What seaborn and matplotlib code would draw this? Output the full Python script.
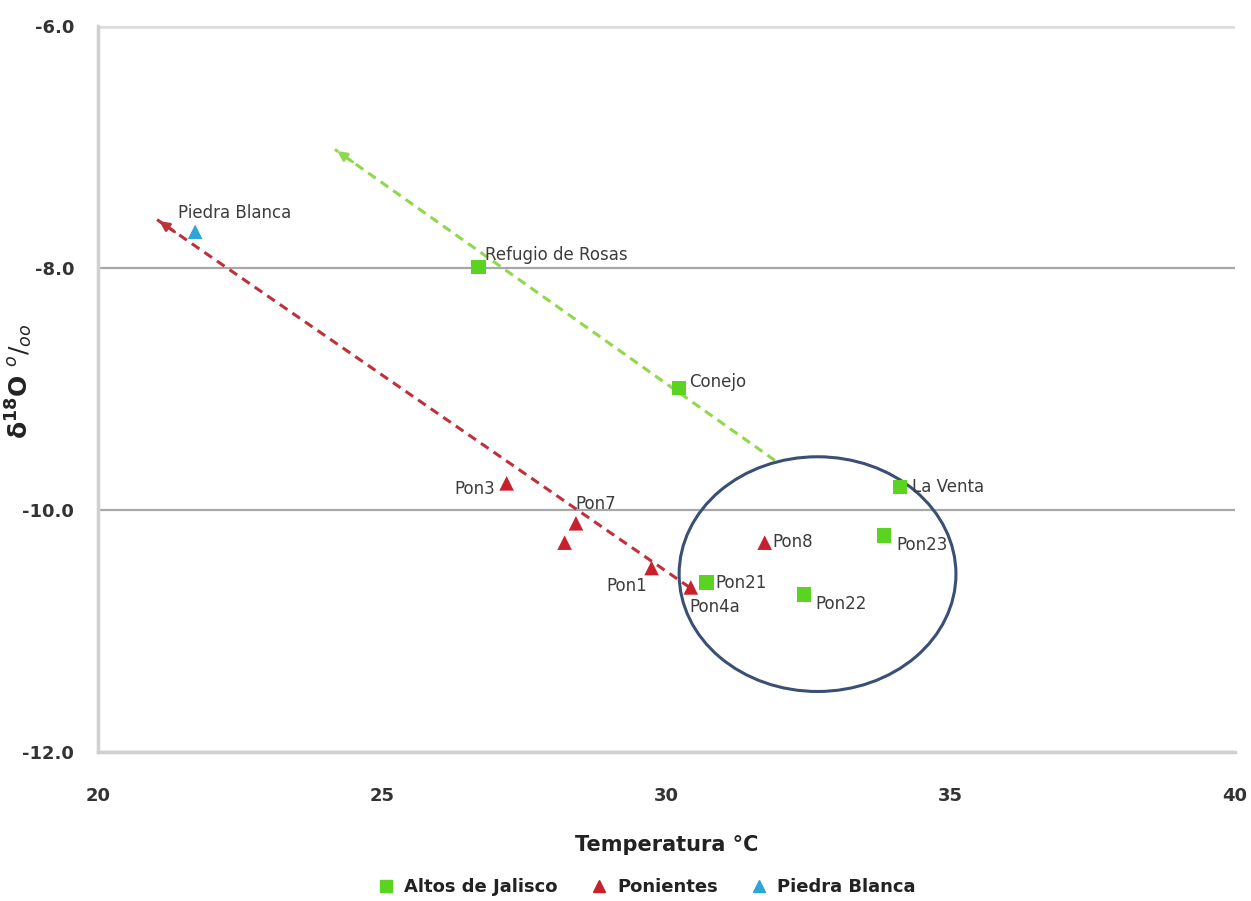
import matplotlib
matplotlib.use("Agg")
import matplotlib.pyplot as plt
from matplotlib.patches import Ellipse
from matplotlib.lines import Line2D
import seaborn as sns
import pandas as pd

# ---- data ----
altos_names = ["Refugio de Rosas", "Conejo", "La Venta", "Pon23", "Pon21", "Pon22"]
altos_temp = [26.70, 30.22, 34.11, 33.83, 30.71, 32.42]
altos_d18o = [-7.99, -8.99, -9.81, -10.21, -10.60, -10.70]

pon_names = ["Pon3", "Pon7", "", "Pon1", "Pon4a", "Pon8"]
pon_temp = [27.19, 28.41, 28.21, 29.74, 30.43, 31.73]
pon_d18o = [-9.78, -10.11, -10.27, -10.48, -10.64, -10.27]

pb_names = ["Piedra Blanca"]
pb_temp = [21.71]
pb_d18o = [-7.70]

green_line_x = [31.91, 24.17]
green_line_y = [-9.59, -7.02]
red_line_x = [30.41, 21.04]
red_line_y = [-10.64, -7.60]

ellipse_center = (32.66, -10.53)
ellipse_size = (4.87, 1.94)

x_ticks = [20, 25, 30, 35, 40]
y_ticks = [-12.0, -10.0, -8.0, -6.0]

groups = ["Altos de Jalisco", "Ponientes", "Piedra Blanca"]
colors = {"Altos de Jalisco": "#5ad321", "Ponientes": "#c8202c", "Piedra Blanca": "#2ba6d6"}
markers = {"Altos de Jalisco": "s", "Ponientes": "^", "Piedra Blanca": "^"}

df = pd.DataFrame({
    "temp": altos_temp + pon_temp + pb_temp,
    "d18o": altos_d18o + pon_d18o + pb_d18o,
    "name": altos_names + pon_names + pb_names,
    "group": [groups[0]] * len(altos_temp) + [groups[1]] * len(pon_temp) + [groups[2]] * len(pb_temp),
})

sns.set_theme(style="white")
plt.rcParams["font.family"] = ["DejaVu Sans"]

fig = plt.figure(figsize=(12.51, 9.01), dpi=100)
ax = fig.add_axes([0.0783, 0.1654, 0.9087, 0.8057])

# grid lines
for yv in y_ticks:
    if yv == -6.0:
        ax.axhline(yv, color="#dcdcdc", lw=4, zorder=0)
    else:
        ax.axhline(yv, color="#a8a8a8", lw=1.6, zorder=0)

# trend lines (dashed) with arrowheads
ax.plot(green_line_x, green_line_y, color="#8fd84c", lw=2.2, ls=(0, (3, 2)), zorder=2)
ax.plot(red_line_x, red_line_y, color="#c0303a", lw=2.2, ls=(0, (3, 2)), zorder=2)
ax.annotate("", xy=(green_line_x[1], green_line_y[1]),
            xytext=(green_line_x[1] + 0.35, green_line_y[1] - 0.116),
            arrowprops=dict(arrowstyle="-|>", color="#8fd84c", lw=2, mutation_scale=14), zorder=3)
ax.annotate("", xy=(red_line_x[1], red_line_y[1]),
            xytext=(red_line_x[1] + 0.35, red_line_y[1] - 0.114),
            arrowprops=dict(arrowstyle="-|>", color="#c0303a", lw=2, mutation_scale=14), zorder=3)

# ellipse
ax.add_patch(Ellipse(ellipse_center, ellipse_size[0], ellipse_size[1],
                     fill=False, ec="#3a4f74", lw=2.2, zorder=2))

sns.scatterplot(data=df, x="temp", y="d18o", hue="group", style="group",
                palette=colors, markers=markers, s=110, edgecolor="none",
                legend=False, ax=ax, zorder=4)

# point labels
offsets = {
    "Refugio de Rosas": (6, 12, "left"),
    "Conejo": (10, 6, "left"),
    "La Venta": (12, 0, "left"),
    "Pon23": (12, -10, "left"),
    "Pon21": (9, 0, "left"),
    "Pon22": (11, -9, "left"),
    "Pon3": (-12, -6, "right"),
    "Pon7": (-1, 19, "left"),
    "Pon1": (-4, -18, "right"),
    "Pon4a": (-1, -20, "left"),
    "Pon8": (8, 1, "left"),
    "Piedra Blanca": (-17, 19, "left"),
}
for _, r in df.iterrows():
    if r["name"] in offsets:
        dx, dy, ha = offsets[r["name"]]
        ax.annotate(r["name"], (r["temp"], r["d18o"]), xytext=(dx, dy),
                    textcoords="offset pixels", ha=ha, va="center",
                    fontsize=12, color="#3c3c3c", zorder=5)

ax.set_xlim(20, 40)
ax.set_ylim(-12, -6)
ax.set_xticks(x_ticks)
ax.set_yticks(y_ticks)
ax.set_yticklabels([f"{v:.1f}" for v in y_ticks])
ax.tick_params(axis="both", length=0, labelsize=13, colors="#333333")
ax.tick_params(axis="x", pad=25)
ax.tick_params(axis="y", pad=17)
for lab in ax.get_xticklabels() + ax.get_yticklabels():
    lab.set_fontweight("bold")

for s in ["top", "right"]:
    ax.spines[s].set_visible(False)
ax.spines["left"].set_color("#d0d0d0")
ax.spines["left"].set_linewidth(2.5)
ax.spines["bottom"].set_color("#d0d0d0")
ax.spines["bottom"].set_linewidth(2.5)

ax.set_xlabel("Temperatura °C", fontsize=15, fontweight="bold", color="#222222", labelpad=22)
ax.set_ylabel(r"$\mathbf{\delta^{18}O}$ $^{o}/_{oo}$", fontsize=18, fontweight="bold", color="#222222")
ax.yaxis.set_label_coords(-0.055, 0.51)

handles = [Line2D([], [], ls="none", marker=markers[g], color=colors[g], markersize=9) for g in groups]
fig.legend(handles, groups, loc="center", bbox_to_anchor=(0.513, 0.015), ncol=3, frameon=False,
           prop={"size": 13, "weight": "bold"}, handletextpad=0.0, columnspacing=1.3,
           labelcolor="#222222")

fig.savefig("out.png", dpi=100)
